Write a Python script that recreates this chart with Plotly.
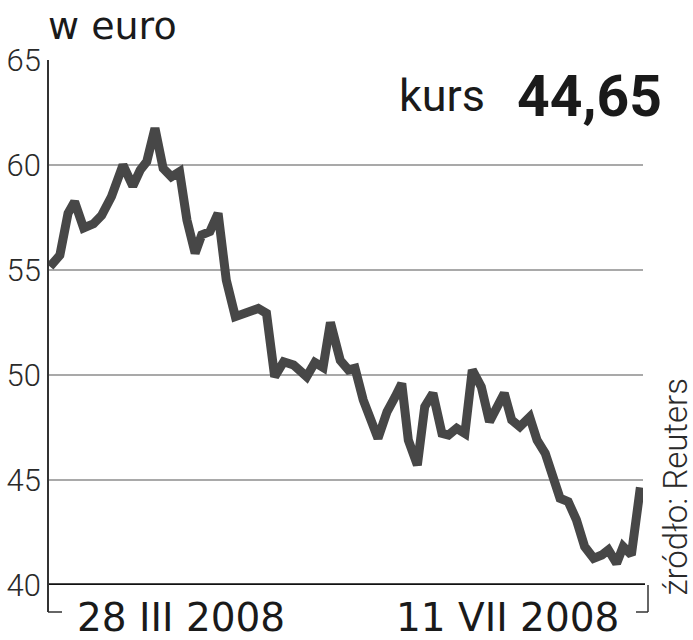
import plotly.graph_objects as go

# Session index (position along the time axis) and price in euro
sessions = [0, 1.2, 2.2, 3.0, 4.1, 5.3, 6.3, 7.5, 8.9, 10.1, 11.0, 11.8, 12.8, 13.8, 14.8, 15.8,
            16.7, 17.7, 18.5, 19.5, 20.5, 21.5, 22.6, 24.0, 25.4, 26.4, 27.4, 28.5, 29.7, 31.3,
            32.3, 33.3, 34.2, 35.4, 36.4, 37.2, 38.2, 40.0, 41.1, 42.1, 42.9, 43.7, 44.8, 45.7,
            46.7, 47.8, 48.6, 49.6, 50.6, 51.5, 52.6, 53.6, 54.5, 55.4, 56.3, 57.3, 58.5, 59.4,
            60.4, 61.4, 62.2, 63.2, 64.2, 65.2, 66.3, 67.3, 68.1, 69.1, 69.9, 70.9, 72.0]
price = [55.16, 55.7, 57.7, 58.25, 57.0, 57.2, 57.6, 58.5, 60.0, 59.0, 59.76, 60.16, 61.75, 59.84,
         59.44, 59.68, 57.38, 55.8, 56.67, 56.83, 57.7, 54.52, 52.78, 52.94, 53.17, 52.94, 49.92,
         50.63, 50.48, 49.92, 50.6, 50.36, 52.5, 50.7, 50.24, 50.32, 48.81, 46.98, 48.25, 48.97,
         49.6, 46.9, 45.71, 48.49, 49.13, 47.22, 47.14, 47.46, 47.22, 50.24, 49.44, 47.78, 48.49,
         49.13, 47.86, 47.54, 48.0, 46.9, 46.27, 44.92, 44.13, 43.97, 43.1, 41.83, 41.27, 41.43,
         41.67, 41.03, 41.83, 41.43, 44.65]

y_ticks = [40, 45, 50, 55, 60, 65]
date_labels = ["28 III 2008", "11 VII 2008"]
date_label_pos = [0.224, 0.772]
unit_label = "w euro"
rate_label = "kurs"
rate_value = "44,65"
source_label = "źródło: Reuters"

fig = go.Figure()
fig.add_trace(go.Scatter(
    x=sessions, y=price, mode="lines",
    line=dict(color="#474747", width=9, shape="linear"),
    hoverinfo="skip", showlegend=False,
))

W, H = 693, 640
L, R, T, B = 48, 50, 60, 55
plot_w = W - L - R
plot_h = H - T - B

fig.update_layout(
    width=W, height=H,
    margin=dict(l=L, r=R, t=T, b=B, autoexpand=False),
    paper_bgcolor="white", plot_bgcolor="white",
    xaxis=dict(range=[-0.244, 72.32], showgrid=False, zeroline=False, showticklabels=False,
               showline=False, ticks="", automargin=False),
    yaxis=dict(range=[40, 65], tickvals=y_ticks, ticktext=[str(v) for v in y_ticks],
               showgrid=True, gridcolor="#a9a9a9", gridwidth=1.5, zeroline=False,
               showline=False, ticks="", ticklabelstandoff=6, automargin=False,
               tickfont=dict(family="Roboto", size=31, color="#2a2a2a", weight=300)),
    font=dict(family="Roboto"),
)

dy = 27 / plot_h
# bottom axis line (thick black)
fig.add_shape(type="line", xref="paper", yref="y", x0=0, x1=(645 - L) / plot_w, y0=40, y1=40,
              line=dict(color="#111111", width=3.5), layer="above")
# left frame line and bracket
fig.add_shape(type="line", xref="paper", yref="paper", x0=0, x1=0, y0=-dy, y1=1,
              line=dict(color="#333333", width=2))
fig.add_shape(type="line", xref="paper", yref="paper", x0=0, x1=14 / plot_w, y0=-dy, y1=-dy,
              line=dict(color="#333333", width=1.5))
# right bracket
xr = (648 - L) / plot_w
fig.add_shape(type="line", xref="paper", yref="paper", x0=xr, x1=xr, y0=-dy, y1=0,
              line=dict(color="#333333", width=1.5))
fig.add_shape(type="line", xref="paper", yref="paper", x0=xr - 12 / plot_w, x1=xr, y0=-dy, y1=-dy,
              line=dict(color="#333333", width=1.5))

for lab, pos in zip(date_labels, date_label_pos):
    fig.add_annotation(text=lab, xref="paper", yref="paper", x=pos, y=-8 / plot_h, yanchor="top",
                       xanchor="center", showarrow=False,
                       font=dict(family="DejaVu Sans", size=39, color="#1a1a1a"))

fig.add_annotation(text=unit_label, xref="paper", yref="paper", x=-2 / plot_w, y=1 + 10 / plot_h,
                   xanchor="left", yanchor="bottom", showarrow=False,
                   font=dict(family="DejaVu Sans", size=38, color="#1a1a1a"))
fig.add_annotation(text=rate_label, xref="paper", yref="paper", x=(487 - L) / plot_w,
                   y=1 - 7 / plot_h, xanchor="right", yanchor="top", showarrow=False,
                   font=dict(family="Roboto", size=45, color="#1a1a1a"))
fig.add_annotation(text="<b>" + rate_value + "</b>", xref="paper", yref="paper",
                   x=(664 - L) / plot_w, y=1 - 1 / plot_h, xanchor="right", yanchor="top",
                   showarrow=False, font=dict(family="Roboto", size=57, color="#1a1a1a"))
fig.add_annotation(text=source_label, xref="paper", yref="paper", x=(675 - L) / plot_w,
                   y=-13 / plot_h, xanchor="center", yanchor="bottom",
                   textangle=-90, showarrow=False,
                   font=dict(family="Roboto", size=33, color="#2a2a2a", weight=300))

fig.write_html("out.html", post_script="document.body.style.margin='0';",
               config={"displayModeBar": False})
